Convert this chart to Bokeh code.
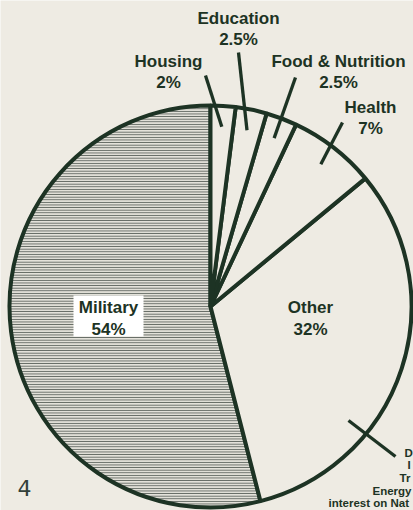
import math
from bokeh.plotting import figure
from bokeh.models import Range1d, Label, BoxAnnotation
from bokeh.embed import file_html
from bokeh.resources import INLINE

# ---- data ----
categories = ["Military", "Other", "Health", "Food & Nutrition", "Education", "Housing"]
shares = [54, 32, 7, 2.5, 2.5, 2]
share_labels = ["54%", "32%", "7%", "2.5%", "2.5%", "2%"]

BG = "#eeebe3"
INK = "#1d3324"

W, H = 413, 510
p = figure(width=W, height=H, output_backend="svg", toolbar_location=None,
           x_range=Range1d(0, W), y_range=Range1d(-H, 0),
           min_border=0, background_fill_color=BG, border_fill_color=BG)
p.axis.visible = False
p.grid.visible = False
p.outline_line_color = None

cx, cy, R = 210, -306, 201

# slices run anticlockwise from 12 o'clock
starts, ends, mids = [], [], []
a = 90.0
for s in shares:
    st = a
    en = a + s * 3.6
    starts.append(math.radians(st))
    ends.append(math.radians(en))
    mids.append(math.radians((st + en) / 2))
    a = en

for i, c in enumerate(categories):
    hatch = "horizontal_line" if c == "Military" else None
    p.wedge(x=cx, y=cy, radius=R, start_angle=starts[i], end_angle=ends[i],
            fill_color="#e4e2da" if hatch else BG, line_color=INK, line_width=4,
            hatch_pattern=hatch, hatch_color="#27312b", hatch_alpha=0.7,
            hatch_scale=2.6, hatch_weight=1.2)

# leader lines for small slices: inner point on mid-angle, outer point near label
outer_pts = {"Housing": (205, 75), "Education": (238, 52),
             "Food & Nutrition": (295, 77), "Health": (342, 122)}
for i, c in enumerate(categories):
    if c in outer_pts:
        ix = cx + 180 * math.cos(mids[i])
        iy = cy + 180 * math.sin(mids[i])
        ox, oy = outer_pts[c]
        p.line([ix, ox], [iy, -oy], line_color=INK, line_width=3.3)

# callout for "Other"
p.line([348, 395], [-420, -456], line_color=INK, line_width=3.3)

FONT = "Liberation Sans"
label_pos = {"Education": (238, 18, 39), "Housing": (168, 61, 82),
             "Food & Nutrition": (338, 61, 82), "Health": (370, 107, 128),
             "Other": (310, 307, 329), "Military": (108, 307, 329)}

p.add_layout(BoxAnnotation(left=73, right=143, bottom=-336, top=-295,
                           fill_color="white", fill_alpha=1, line_alpha=0))

for i, c in enumerate(categories):
    x, y1, y2 = label_pos[c]
    for txt, yy in ((c, y1), (share_labels[i], y2)):
        p.add_layout(Label(x=x, y=-yy, text=txt, text_align="center",
                           text_baseline="middle", text_font=FONT,
                           text_font_style="bold", text_font_size="17px",
                           text_color=INK))

# footnote fragments at lower right (cut off at the page edge in the original)
foot = [("D", 404, 452), ("I", 407, 464), ("Tr", 399, 477),
        ("Energy", 372, 490), ("interest on Nat", 328, 502)]
for t, x, y in foot:
    p.add_layout(Label(x=x, y=-y, text=t, text_align="left", text_baseline="middle",
                       text_font=FONT, text_font_style="bold", text_font_size="11.5px",
                       text_color=INK))

# page number
p.add_layout(Label(x=24, y=-487, text="4", text_align="center", text_baseline="middle",
                   text_font="DejaVu Sans", text_font_size="22px", text_color="#33403a"))

open("out.html", "w").write(file_html(p, INLINE))
